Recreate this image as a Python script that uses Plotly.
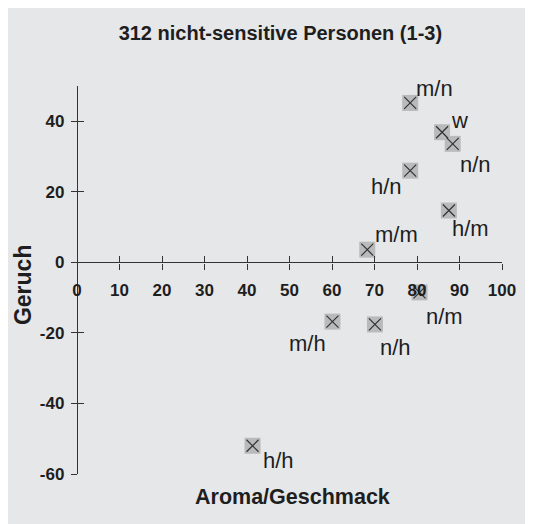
"""Scatter of Aroma/Geschmack vs. Geruch for non-sensitive panel."""

import plotly.graph_objects as go

FONT = "Liberation Sans, Arial, sans-serif"
TEXT_COLOR = "#1e1e1e"
BG_COLOR = "#e6e7e9"

aroma = [78.4, 85.9, 88.4, 78.4, 87.5, 68.3, 80.6, 60.1, 70.1, 41.3]
geruch = [45.2, 36.9, 33.6, 26.0, 14.7, 3.6, -8.5, -16.8, -17.6, -52.0]
labels = ["m/n", "w", "n/n", "h/n", "h/m", "m/m", "n/m", "m/h", "n/h", "h/h"]
x_ticks = [0, 10, 20, 30, 40, 50, 60, 70, 80, 90, 100]
y_ticks = [-60, -40, -20, 0, 20, 40]
x_range = [0, 100]
y_range = [-60, 50]

# label offsets from the marker centre, in pixels (right, down)
label_offsets = [
    (24, -14), (17, -12), (23, 21), (-24, 16), (22, 18),
    (29, -15), (25, 24), (-25, 22), (21, 23), (26, 15),
]

fig = go.Figure()
fig.add_trace(
    go.Scatter(
        x=aroma,
        y=geruch,
        mode="markers",
        marker=dict(symbol="square", size=16, color="#b9babc", line=dict(width=0)),
        cliponaxis=False,
        showlegend=False,
        hoverinfo="skip",
    )
)
fig.add_trace(
    go.Scatter(
        x=aroma,
        y=geruch,
        mode="markers",
        text=labels,
        marker=dict(symbol="x-thin", size=12, line=dict(width=1.2, color="#333333")),
        cliponaxis=False,
        showlegend=False,
    )
)
# empty trace so the second (inside-tick) axes get drawn
fig.add_trace(go.Scatter(x=[], y=[], xaxis="x2", yaxis="y2", showlegend=False))

x_pos = (0 - x_range[0]) / (x_range[1] - x_range[0])
y_pos = (0 - y_range[0]) / (y_range[1] - y_range[0])

axis_common = dict(
    showgrid=False,
    zeroline=False,
    linecolor="#333333",
    linewidth=1.3,
    tickcolor="#333333",
    tickwidth=1.3,
    ticklen=6,
    automargin=False,
)
tick_font = dict(family=FONT, size=17, color=TEXT_COLOR, weight="bold")
y_ticktext = [str(v) for v in y_ticks]  # plain hyphen, not unicode minus

annotations = [
    dict(
        x=x, y=y, text=t, xshift=dx, yshift=-dy,
        xanchor="center", yanchor="middle", showarrow=False,
        font=dict(family=FONT, size=22, color=TEXT_COLOR),
    )
    for x, y, t, (dx, dy) in zip(aroma, geruch, labels, label_offsets)
]
# axis titles (x axis sits at y=0, so titles are placed on the paper)
annotations.append(
    dict(
        text="Aroma/Geschmack",
        x=0.507, xref="paper", y=-0.059, yref="paper",
        xanchor="center", yanchor="middle", showarrow=False,
        font=dict(family=FONT, size=21.5, color=TEXT_COLOR, weight="bold"),
    )
)
annotations.append(
    dict(
        text="Geruch",
        x=-0.127, xref="paper", y=0.487, yref="paper",
        textangle=-90,
        xanchor="center", yanchor="middle", showarrow=False,
        font=dict(family=FONT, size=23, color=TEXT_COLOR, weight="bold"),
    )
)

fig.update_layout(
    width=533,
    height=524,
    margin=dict(l=69, r=39, t=78, b=58),
    paper_bgcolor=BG_COLOR,
    plot_bgcolor=BG_COLOR,
    title=dict(
        text="312 nicht-sensitive Personen (1-3)",
        x=0.511,
        xref="container",
        xanchor="center",
        y=0.952,
        yref="container",
        yanchor="middle",
        font=dict(family=FONT, size=20, color=TEXT_COLOR, weight="bold"),
    ),
    xaxis=dict(
        range=x_range,
        anchor="free",
        position=y_pos,
        showline=True,
        ticks="outside",
        tickvals=x_ticks,
        tickfont=tick_font,
        ticklabelstandoff=6,
        **axis_common,
    ),
    xaxis2=dict(
        range=x_range,
        overlaying="x",
        anchor="free",
        position=y_pos,
        showline=False,
        ticks="inside",
        tickvals=x_ticks,
        showticklabels=False,
        **axis_common,
    ),
    yaxis=dict(
        range=y_range,
        anchor="free",
        position=x_pos,
        showline=True,
        ticks="outside",
        tickvals=y_ticks,
        ticktext=y_ticktext,
        tickfont=tick_font,
        ticklabelstandoff=3,
        **axis_common,
    ),
    yaxis2=dict(
        range=y_range,
        overlaying="y",
        anchor="free",
        position=x_pos,
        showline=False,
        ticks="inside",
        tickvals=y_ticks,
        showticklabels=False,
        **axis_common,
    ),
    annotations=annotations,
    shapes=[
        # thin white strip along the top edge of the page
        dict(type="rect", xref="paper", yref="paper", x0=-0.3, x1=1.3,
             y0=1.201, y1=1.25, fillcolor="white", line=dict(width=0)),
    ],
)

fig.write_html("out.html")
